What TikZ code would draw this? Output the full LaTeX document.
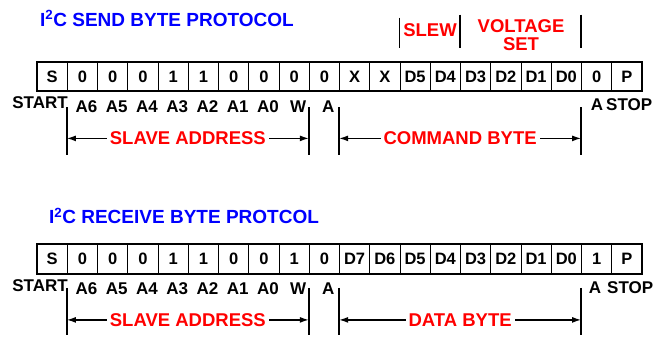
\documentclass[tikz,border=0pt]{standalone}
\usepackage{fontspec}
\setmainfont{Liberation Sans}
\usetikzlibrary{arrows.meta}
\tikzstyle{cell}=[draw, line width=0.8pt, minimum width=30.25pt, minimum height=29pt, inner sep=0pt, font=\bfseries\fontsize{16.5}{16.5}\selectfont]
\tikzstyle{bit label}=[inner sep=0pt, font=\bfseries\fontsize{17}{17}\selectfont]
\tikzstyle{field}=[text=red, fill=white, inner sep=3pt, font=\bfseries\fontsize{18.5}{18.5}\selectfont]
\tikzstyle{title}=[text=blue, anchor=west, inner sep=0pt, font=\bfseries\fontsize{19}{19}\selectfont]
\tikzstyle{edge}=[draw, line width=1.6pt]
\tikzstyle{span}=[draw, line width=1.4pt, {Latex[length=9pt,width=6pt]}-{Latex[length=9pt,width=6pt]}]
\tikzstyle{frame}=[draw, line width=2pt]

\begin{document}
\begin{tikzpicture}[x=1pt, y=-1pt]
	\useasboundingbox (0,0) rectangle (659,339);
	% Titles
	\node[title] (send title) at (40,18.5) {I\textsuperscript{2}C SEND BYTE PROTOCOL};
	\node[title] (recv title) at (49,216) {I\textsuperscript{2}C RECEIVE BYTE PROTCOL};

	% Send byte cells
	\foreach \i/\bit in {0/S, 1/0, 2/0, 3/0, 4/1, 5/1, 6/0, 7/0, 8/0, 9/0,
		10/X, 11/X, 12/D5, 13/D4, 14/D3, 15/D2, 16/D1, 17/D0, 18/0, 19/P}
	\node[cell] (t\i) at ({37+30.25*(\i+0.5)},76.5) {\bit};
	\path[frame] (t0.north west) rectangle (t19.south east);

	% Receive byte cells
	\foreach \i/\bit in {0/S, 1/0, 2/0, 3/0, 4/1, 5/1, 6/0, 7/0, 8/1, 9/0,
		10/D7, 11/D6, 12/D5, 13/D4, 14/D3, 15/D2, 16/D1, 17/D0, 18/1, 19/P}
	\node[cell] (b\i) at ({37+30.25*(\i+0.5)},259) {\bit};
	\path[frame] (b0.north west) rectangle (b19.south east);

	% Bit names under the cells
	\foreach \i/\name in {1/A6, 2/A5, 3/A4, 4/A3, 5/A2, 6/A1, 7/A0, 8/W, 9/A}
	{
		\node[bit label] (tl\i) at ([xshift=4pt,yshift=-15pt]t\i.south) {\name};
		\node[bit label] (bl\i) at ([xshift=4pt,yshift=-15pt]b\i.south) {\name};
	}
	\node[bit label, anchor=east] (t start) at (68,103) {START};
	\node[bit label, anchor=east] (b start) at (68,286) {START};
	\node[bit label] (t ack) at (597,105) {A};
	\node[bit label, anchor=west] (t stop) at (606,105) {STOP};
	\node[bit label] (b ack) at (595,288) {A};
	\node[bit label, anchor=west] (b stop) at (607,288) {STOP};

	% Field brackets, send byte
	\foreach \n/\c in {ta/t1, tb/t9, tc/t10, td/t18}
	{
		\coordinate (\n1) at ([yshift=-16pt]\c.south west);
		\coordinate (\n2) at ([yshift=-64pt]\c.south west);
		\coordinate (\n3) at ([yshift=-47pt]\c.south west);
	}
	\foreach \n/\c in {ba/b1, bb/b9, bc/b10, bd/b18}
	{
		\coordinate (\n1) at ([yshift=-14pt]\c.south west);
		\coordinate (\n2) at ([yshift=-61pt]\c.south west);
		\coordinate (\n3) at ([yshift=-46pt]\c.south west);
	}
	\foreach \n in {ta, tb, tc, td, ba, bb, bc, bd}
	\path[edge] (\n1) -- (\n2);

	\path[span] (ta3) -- node[field] (t addr) {SLAVE ADDRESS} (tb3);
	\path[span] (tc3) -- node[field] (t cmd) {COMMAND BYTE} (td3);
	\path[span] (ba3) -- node[field] (b addr) {SLAVE ADDRESS} (bb3);
	\path[span] (bc3) -- node[field] (b data) {DATA BYTE} (bd3);

	% Slew and voltage set above the command byte
	\coordinate (sl1) at ([yshift=44pt]t12.north west);
	\coordinate (sl2) at ([yshift=14pt]t12.north west);
	\coordinate (vs1) at ([yshift=47pt]t14.north west);
	\coordinate (vs2) at ([yshift=14pt]t14.north west);
	\coordinate (ve1) at ([yshift=47pt]t18.north west);
	\coordinate (ve2) at ([yshift=14pt]t18.north west);
	\foreach \n in {sl, vs, ve}
	\path[edge] (\n1) -- (\n2);
	\node[field, fill=none, inner sep=0pt] (slew) at (430,30) {SLEW};
	\node[field, fill=none, inner sep=0pt, align=center] (vset) at (521,35) {VOLTAGE\\[-1pt]SET};
\end{tikzpicture}
\end{document}
